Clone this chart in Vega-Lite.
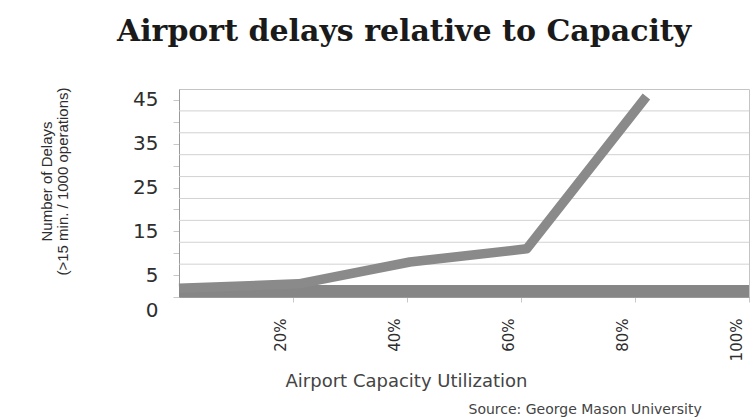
{
  "$schema": "https://vega.github.io/schema/vega-lite/v6.json",
  "autosize": "none",
  "width": 570,
  "height": 208,
  "padding": {"left": 179, "top": 89, "right": 7, "bottom": 120},
  "background": "white",
  "title": {
    "text": "Airport delays relative to Capacity",
    "font": "DejaVu Serif",
    "fontSize": 30,
    "fontWeight": "bold",
    "color": "#1a1a1a",
    "anchor": "middle",
    "frame": "group",
    "dx": -60,
    "offset": 40
  },
  "datasets": {
    "delays": [
      {"utilization": 0, "delays": 2},
      {"utilization": 21, "delays": 3},
      {"utilization": 40.5, "delays": 8},
      {"utilization": 61, "delays": 11},
      {"utilization": 82, "delays": 45.8}
    ],
    "baseline": [
      {"utilization": 0, "delays": 1.35},
      {"utilization": 100, "delays": 1.35}
    ],
    "grid": [
      {"delays": 2.5}, {"delays": 7.5}, {"delays": 12.5}, {"delays": 17.5},
      {"delays": 22.5}, {"delays": 27.5}, {"delays": 32.5}, {"delays": 37.5},
      {"delays": 42.5}
    ]
  },
  "encoding": {
    "y": {
      "field": "delays",
      "type": "quantitative",
      "scale": {"domain": [0, 47.5], "nice": false, "zero": true},
      "axis": {
        "values": [0, 5, 10, 15, 20, 25, 30, 35, 40, 45],
        "labelExpr": "indexof([0, 5, 15, 25, 35, 45], datum.value) >= 0 ? datum.label : ''",
        "grid": false,
        "domainColor": "#9a9a9a",
        "tickColor": "#c8c8c8",
        "tickSize": 6,
        "labelPadding": 15,
        "labelFont": "DejaVu Sans",
        "labelFontSize": 20,
        "labelColor": "#2e2e2e",
        "labelOffset": {"condition": {"test": "datum.value == 0", "value": 13}, "value": 0},
        "title": ["Number of Delays", "(>15 min. / 1000 operations)"],
        "titleFont": "Liberation Sans",
        "titleFontSize": 15,
        "titleFontWeight": "normal",
        "titleColor": "#2e2e2e",
        "titleLineHeight": 16,
        "titleAngle": -90,
        "titleBaseline": "middle",
        "titleX": -133,
        "titleY": 92
      }
    }
  },
  "layer": [
    {
      "data": {"name": "grid"},
      "mark": {"type": "rule", "color": "#d2d2d2", "strokeWidth": 1}
    },
    {
      "data": {"name": "baseline"},
      "mark": {"type": "line", "color": "#868686", "strokeWidth": 12, "strokeCap": "butt"},
      "encoding": {
        "x": {
          "field": "utilization",
          "type": "quantitative",
          "scale": {"domain": [0, 100], "nice": false},
          "axis": {
            "orient": "bottom",
            "labels": false,
            "ticks": false,
            "domain": false,
            "grid": false,
            "title": "Source: George Mason University",
            "titleFont": "DejaVu Sans",
            "titleFontSize": 14,
            "titleFontWeight": "normal",
            "titleColor": "#444444",
            "titleAlign": "left",
            "titleBaseline": "middle",
            "titleX": 289,
            "titleY": 112
          }
        }
      }
    },
    {
      "data": {"name": "delays"},
      "mark": {"type": "line", "color": "#8a8a8a", "strokeWidth": 9.5, "strokeCap": "butt", "strokeJoin": "round"},
      "encoding": {
        "x": {
          "field": "utilization",
          "type": "quantitative",
          "scale": {"domain": [0, 100], "nice": false},
          "axis": {
            "orient": "bottom",
            "values": [20, 40, 60, 80, 100],
            "labelExpr": "datum.value + '%'",
            "grid": false,
            "domainColor": "#9a9a9a",
            "tickColor": "#c8c8c8",
            "tickSize": 5,
            "labelAngle": -90,
            "labelPadding": 16,
            "labelOffset": -13,
            "labelFont": "DejaVu Sans",
            "labelFontSize": 15,
            "labelColor": "#2e2e2e",
            "title": "Airport Capacity Utilization",
            "titleFont": "DejaVu Sans",
            "titleFontSize": 18,
            "titleFontWeight": "normal",
            "titleColor": "#444444",
            "titleBaseline": "middle",
            "titleX": 227,
            "titleY": 84
          }
        }
      }
    }
  ],
  "resolve": {"axis": {"x": "independent"}},
  "config": {
    "view": {"stroke": "#c4c4c4", "strokeWidth": 1}
  }
}
